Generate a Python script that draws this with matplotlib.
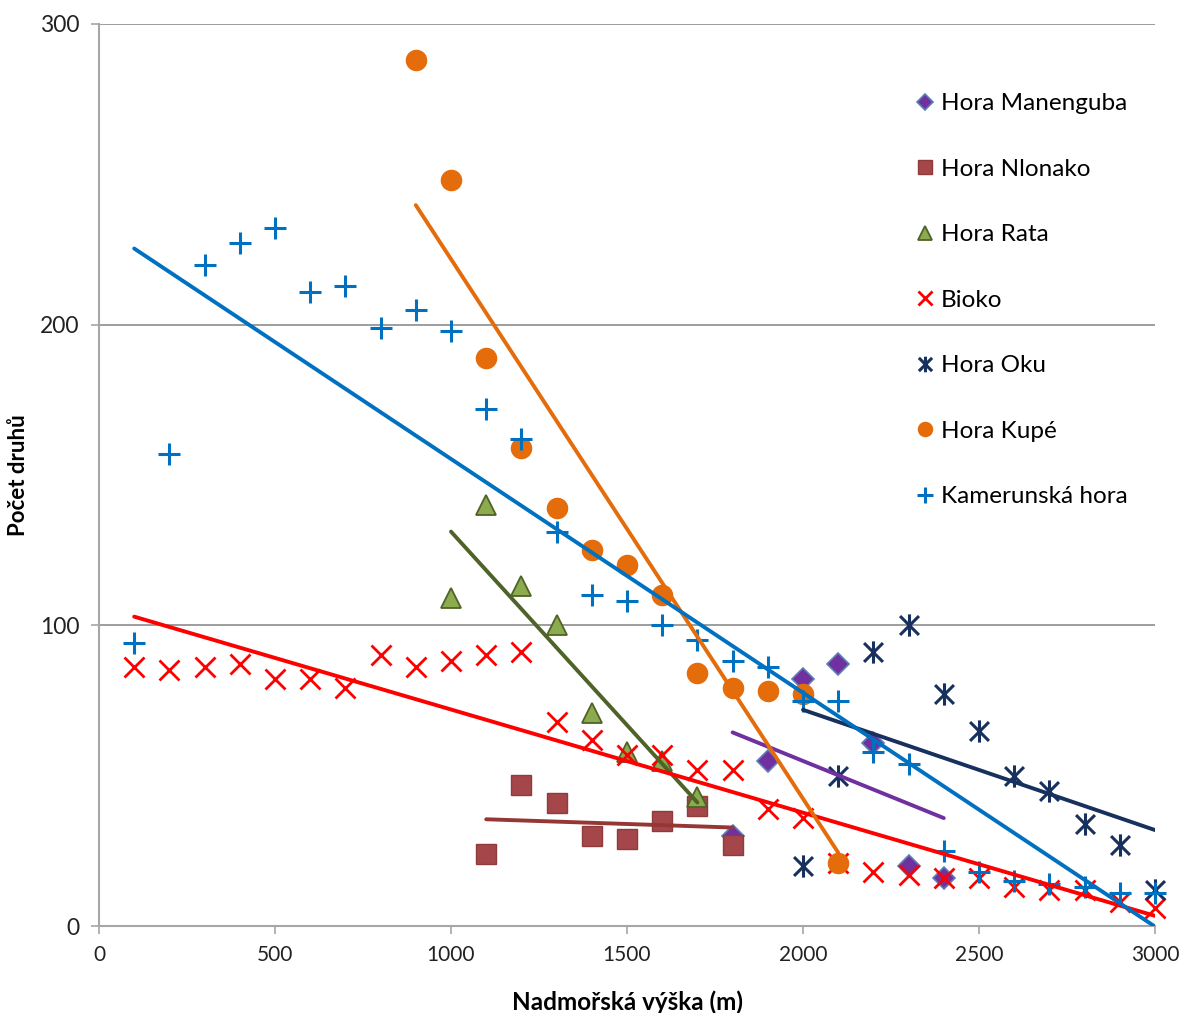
import numpy as np
import matplotlib
matplotlib.use("Agg")
import matplotlib.pyplot as plt
from matplotlib.path import Path

plt.rcParams['font.family'] = ['Lato', 'DejaVu Sans']

# ---- data ----
manenguba_x = [1800, 1900, 2000, 2100, 2200, 2300, 2400]
manenguba_y = [30, 55, 82, 87, 61, 20, 16]

nlonako_x = [1100, 1200, 1300, 1400, 1500, 1600, 1700, 1800]
nlonako_y = [24, 47, 41, 30, 29, 35, 40, 27]

rata_x = [1000, 1100, 1200, 1300, 1400, 1500, 1600, 1700]
rata_y = [109, 140, 113, 100, 71, 58, 55, 43]

bioko_x = [100, 200, 300, 400, 500, 600, 700, 800, 900, 1000, 1100, 1200, 1300,
           1400, 1500, 1600, 1700, 1800, 1900, 2000, 2100, 2200, 2300, 2400,
           2500, 2600, 2700, 2800, 2900, 3000]
bioko_y = [86, 85, 86, 87, 82, 82, 79, 90, 86, 88, 90, 91, 68,
           62, 57, 57, 52, 52, 39, 36, 21, 18, 17, 16,
           16, 13, 12, 12, 8, 6]

oku_x = [2000, 2100, 2200, 2300, 2400, 2500, 2600, 2700, 2800, 2900, 3000]
oku_y = [20, 50, 91, 100, 77, 65, 50, 45, 34, 27, 12]

kupe_x = [900, 1000, 1100, 1200, 1300, 1400, 1500, 1600, 1700, 1800, 1900, 2000, 2100]
kupe_y = [288, 248, 189, 159, 139, 125, 120, 110, 84, 79, 78, 77, 21]

kamerun_x = [100, 200, 300, 400, 500, 600, 700, 800, 900, 1000, 1100, 1200, 1300,
             1400, 1500, 1600, 1700, 1800, 1900, 2000, 2100, 2200, 2300, 2400,
             2500, 2600, 2700, 2800, 2900, 3000]
kamerun_y = [94, 157, 220, 227, 232, 211, 213, 199, 205, 198, 172, 162, 131,
             110, 108, 100, 95, 88, 86, 75, 75, 58, 54, 25,
             18, 15, 14, 13, 11, 11]

x_ticks = [0, 500, 1000, 1500, 2000, 2500, 3000]
y_ticks = [0, 100, 200, 300]

# asterisk marker: vertical line + X
ast = Path([(0, -1), (0, 1), (-0.85, -0.85), (0.85, 0.85), (-0.85, 0.85), (0.85, -0.85)],
           [Path.MOVETO, Path.LINETO, Path.MOVETO, Path.LINETO, Path.MOVETO, Path.LINETO])

series = [
    dict(name="Hora Manenguba", x=manenguba_x, y=manenguba_y, marker="D", ms=11,
         mfc="#7030A0", mec="#5B7FB5", mew=1.2, line="#7030A0"),
    dict(name="Hora Nlonako", x=nlonako_x, y=nlonako_y, marker="s", ms=14,
         mfc="#A5474A", mec="#8E3B3B", mew=1.0, line="#953735"),
    dict(name="Hora Rata", x=rata_x, y=rata_y, marker="^", ms=15,
         mfc="#8CAA4E", mec="#4F6228", mew=1.3, line="#4F6228"),
    dict(name="Bioko", x=bioko_x, y=bioko_y, marker="x", ms=14,
         mfc="none", mec="#FF0000", mew=2.0, line="#FF0000"),
    dict(name="Hora Oku", x=oku_x, y=oku_y, marker=ast, ms=16,
         mfc="none", mec="#17305E", mew=2.2, line="#17305E"),
    dict(name="Hora Kupé", x=kupe_x, y=kupe_y, marker="o", ms=14.5,
         mfc="#E46C0A", mec="#E46C0A", mew=1.0, line="#E46C0A"),
    dict(name="Kamerunská hora", x=kamerun_x, y=kamerun_y, marker="+", ms=16,
         mfc="none", mec="#0070C0", mew=2.2, line="#0070C0"),
]

fig = plt.figure(figsize=(11.9, 10.13), dpi=100)
ax = fig.add_axes([99 / 1190, 1 - 926 / 1013, (1155 - 99) / 1190, (926 - 24) / 1013])

handles = []
for i, s in enumerate(series):
    h, = ax.plot(s["x"], s["y"], linestyle="none", marker=s["marker"], markersize=s["ms"],
                 markerfacecolor=s["mfc"], markeredgecolor=s["mec"], markeredgewidth=s["mew"],
                 label=s["name"], zorder=3 + i, clip_on=False)
    handles.append(h)

for s in series:
    xs = np.array(s["x"], dtype=float)
    ys = np.array(s["y"], dtype=float)
    k, b = np.polyfit(xs, ys, 1)
    xx = np.array([xs.min(), xs.max()])
    ax.plot(xx, k * xx + b, color=s["line"], linewidth=2.8, zorder=12, solid_capstyle="round")

ax.set_xlim(0, 3000)
ax.set_ylim(0, 300)
ax.set_xticks(x_ticks)
ax.set_yticks(y_ticks)
ax.yaxis.grid(True, color="#8C8C8C", linewidth=1.2)
ax.set_axisbelow(True)
for sp in ["top", "right"]:
    ax.spines[sp].set_visible(False)
for sp in ["left", "bottom"]:
    ax.spines[sp].set_color("#A6A6A6")
    ax.spines[sp].set_linewidth(1.5)
ax.tick_params(axis="both", direction="out", length=6, width=1.2, color="#A6A6A6",
               labelcolor="#222222")
ax.tick_params(axis="x", pad=8, labelsize=15)
ax.tick_params(axis="y", pad=8, labelsize=16.5)

ax.set_xlabel("Nadmořská výška (m)", fontsize=17.5, fontweight="bold")
ax.xaxis.set_label_coords(0.5, -0.071)
ax.set_ylabel("Počet druhů", fontsize=16, fontweight="bold")
ax.yaxis.set_label_coords(-0.066, 0.5)

leg = ax.legend(handles=handles, loc="upper left", bbox_to_anchor=(0.764, 0.934),
                frameon=False, fontsize=17.5, labelspacing=1.83, handlelength=0.75,
                handletextpad=0.3, markerscale=0.7, borderaxespad=0)

fig.savefig("out.png", dpi=100)
